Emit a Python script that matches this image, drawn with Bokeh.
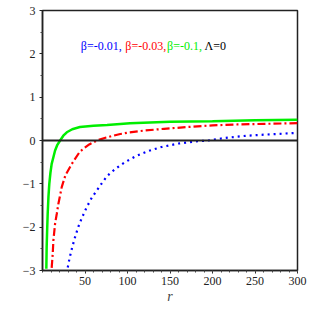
from bokeh.plotting import figure
from bokeh.models import FixedTicker, Label, Span, Range1d
from bokeh.embed import file_html
from bokeh.resources import INLINE

# beta = -0.1 (green, solid)
r_g = [4.5, 4.9, 5.5, 6.1, 7.0, 8.0, 9.3, 10.8, 12.8, 14.8, 17.5, 20.7, 24.5, 28.6, 35, 44, 60, 76, 103, 150, 200, 250, 300]
s_g = [-2.96, -2.46, -2.05, -1.69, -1.30, -1.0, -0.75, -0.54, -0.385, -0.23, -0.10, 0.0, 0.11, 0.19, 0.26, 0.31, 0.34, 0.36, 0.40, 0.43, 0.445, 0.465, 0.48]
# beta = -0.03 (red, dash-dot)
r_r = [10.8, 12.0, 12.8, 14.8, 16.8, 18.7, 22.7, 27, 34.5, 43.5, 48, 55, 64, 75, 91.5, 100, 120, 143, 170, 200, 230, 263, 300]
s_r = [-2.94, -2.62, -2.31, -1.92, -1.69, -1.46, -1.07, -0.8, -0.54, -0.27, -0.19, -0.09, 0.0, 0.07, 0.15, 0.18, 0.23, 0.27, 0.31, 0.35, 0.37, 0.385, 0.40]
# beta = -0.01 (blue, dotted)
r_b = [29.7, 32, 35, 38, 42, 46, 52, 58, 64, 70, 76, 86, 97, 110, 125, 140, 160, 180, 195, 215, 240, 270, 300]
s_b = [-2.93, -2.7, -2.46, -2.25, -2.0, -1.8, -1.54, -1.32, -1.15, -0.98, -0.82, -0.65, -0.5, -0.36, -0.24, -0.15, -0.07, -0.02, 0.0, 0.06, 0.11, 0.145, 0.175]

x_ticks = [50, 100, 150, 200, 250, 300]
y_ticks = [-3, -2, -1, 0, 1, 2, 3]
legend_parts = ["β=-0.01,", "β=-0.03,", "β=-0.1,", "Λ=0"]
legend_colors = ["#0000ff", "#ff0000", "#00ee00", "#000000"]
legend_x = [45.1, 97.4, 146.5, 190.5]

FONT = "'Liberation Serif', 'DejaVu Serif', serif"

p = figure(width=309, height=309, output_backend="svg", toolbar_location=None,
           x_range=Range1d(0, 300), y_range=Range1d(-3, 3),
           min_border_left=42, min_border_right=12, min_border_top=10, min_border_bottom=39)
p.background_fill_color = "white"
p.border_fill_color = "white"
p.grid.visible = False
p.outline_line_color = "#222222"
p.outline_line_width = 1.5

p.xaxis.ticker = FixedTicker(ticks=x_ticks, minor_ticks=list(range(0, 301, 10)))
p.yaxis.ticker = FixedTicker(ticks=y_ticks, minor_ticks=[-2.5, -1.5, -0.5, 0.5, 1.5, 2.5])
p.yaxis.major_label_overrides = {t: (str(t).replace("-", "\u2212")) for t in y_ticks}

for ax in (p.xaxis[0], p.yaxis[0]):
    ax.axis_line_color = "#222222"
    ax.axis_line_width = 1.5
    ax.major_tick_line_color = "#222222"
    ax.minor_tick_line_color = "#444444"
    ax.major_tick_in = 0
    ax.major_tick_out = 3
    ax.minor_tick_in = 0
    ax.minor_tick_out = 2
    ax.major_label_text_font = FONT
    ax.major_label_text_font_size = "12px"
    ax.major_label_text_color = "#222222"

p.xaxis.major_label_standoff = 3
p.yaxis.major_label_standoff = 4
p.xaxis.axis_label = "r"
p.xaxis.axis_label_text_font = FONT
p.xaxis.axis_label_text_font_style = "italic"
p.xaxis.axis_label_text_font_size = "14px"
p.xaxis.axis_label_standoff = 1

p.add_layout(Span(location=0, dimension="width", line_color="#222222", line_width=2))

p.line(r_g, s_g, line_color="#00ee00", line_width=2.5)
p.line(r_r, s_r, line_color="#ff0000", line_width=2.2, line_dash="8 3 2 3")
p.line(r_b, s_b, line_color="#0000ff", line_width=2.2, line_dash="2 4")

for txt, col, xx in zip(legend_parts, legend_colors, legend_x):
    p.add_layout(Label(x=xx, y=2.19, text=txt, text_color=col, text_font=FONT,
                       text_font_size="12px", text_baseline="middle", text_align="left"))

p.add_layout(Label(x=-20.7, y=0.39, text="σ²", text_color="#222222", text_font=FONT,
                   text_font_size="14px", text_baseline="middle", text_align="center"))

open("out.html", "w").write(file_html(p, INLINE))
